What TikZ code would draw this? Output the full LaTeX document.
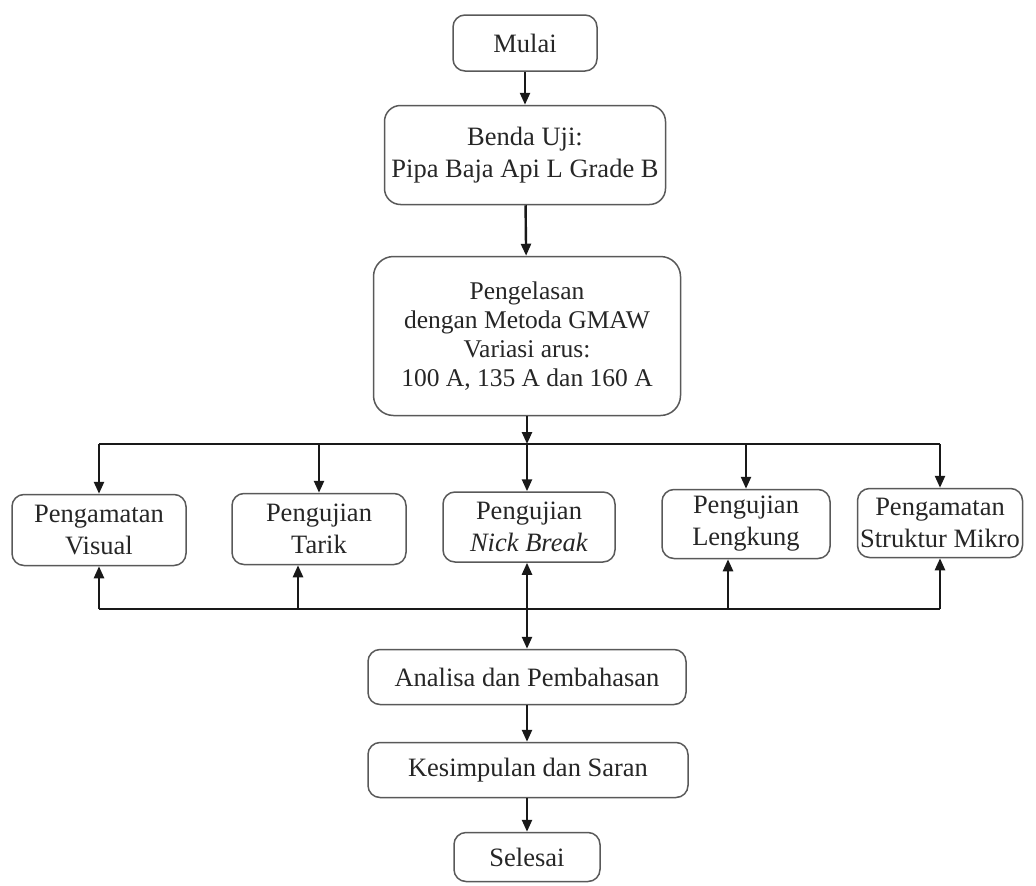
\documentclass[tikz,border=0pt]{standalone}
\usepackage{fontspec}
\setmainfont{Liberation Serif}
\usetikzlibrary{arrows.meta}

\tikzset{
  box/.style={draw=black!65, line width=1.5pt, rounded corners=12pt, align=center,
    inner sep=0pt, text=black!85, font=\fontsize{26.5}{32}\selectfont},
  link/.style={draw=black!90, line width=2.4pt},
  arr/.style={link, -{Triangle[length=12pt,width=10pt]}},
  biarr/.style={link, {Triangle[length=12pt,width=10pt]}-{Triangle[length=12pt,width=10pt]}}
}

\begin{document}
\begin{tikzpicture}[x=1pt,y=1pt]
\useasboundingbox (0,0) rectangle (1036,-886);

% main column
\node[box, minimum width=144pt, minimum height=56pt] (start) at (525,-43) {Mulai};
\node[box, minimum width=281pt, minimum height=99pt, rounded corners=16pt] (benda) at (525,-155)
  {Benda Uji:\\Pipa Baja Api L Grade B};
\node[box, minimum width=307pt, minimum height=159pt, rounded corners=20pt,
  font=\fontsize{25.5}{29}\selectfont] (weld) at (527,-336)
  {Pengelasan\\dengan Metoda GMAW\\Variasi arus:\\100 A, 135 A dan 160 A};

% row of tests
\node[box, minimum width=174pt, minimum height=71pt] (visual) at (99,-530) {Pengamatan\\Visual};
\node[box, minimum width=174pt, minimum height=71pt] (tarik) at (319,-529) {Pengujian\\Tarik};
\node[box, minimum width=172pt, minimum height=70pt] (nick) at (529,-527) {Pengujian\\\textit{Nick Break}};
\node[box, minimum width=168pt, minimum height=69pt] (lengkung) at (746,-524) {Pengujian\\Lengkung};
\node[box, minimum width=165pt, minimum height=69pt] (mikro) at (940,-523) {Pengamatan\\Struktur Mikro};

% closing column
\node[box, minimum width=318pt, minimum height=55pt] (analisa) at (527,-677) {Analisa dan Pembahasan};
\node[box, minimum width=320pt, minimum height=55pt] (simpul) at (528,-770) {Kesimpulan dan Saran};
\node[box, minimum width=146pt, minimum height=49pt] (selesai) at (527,-857) {Selesai};

% bus lines
\coordinate (topbar) at (527,-444);
\coordinate (botbar) at (527,-609);

\draw[arr] (start) -- (benda);
\draw[arr] (benda) -- (weld);
\draw[arr] (weld.south -| topbar) -- (topbar);

\draw[link] (visual.north |- topbar) -- (mikro.north |- topbar);
\draw[arr] (visual.north |- topbar) -- (visual.north);
\draw[arr] (tarik.north |- topbar) -- (tarik.north);
\draw[arr] (topbar) -- (topbar |- nick.north);
\draw[arr] (lengkung.north |- topbar) -- (lengkung.north);
\draw[arr] (mikro.north |- topbar) -- (mikro.north);

\draw[link] (visual.south |- botbar) -- (mikro.south |- botbar);
\draw[arr] (visual.south |- botbar) -- (visual.south);
\draw[arr] ([xshift=-21pt]tarik.south |- botbar) -- ([xshift=-21pt]tarik.south);
\draw[arr] ([xshift=-18pt]lengkung.south |- botbar) -- ([xshift=-18pt]lengkung.south);
\draw[arr] (mikro.south |- botbar) -- (mikro.south);
\draw[biarr] (botbar |- nick.south) -- (botbar |- analisa.north);

\draw[arr] (analisa) -- (analisa |- simpul.north);
\draw[arr] (simpul.south -| selesai) -- (selesai);
\end{tikzpicture}
\end{document}
